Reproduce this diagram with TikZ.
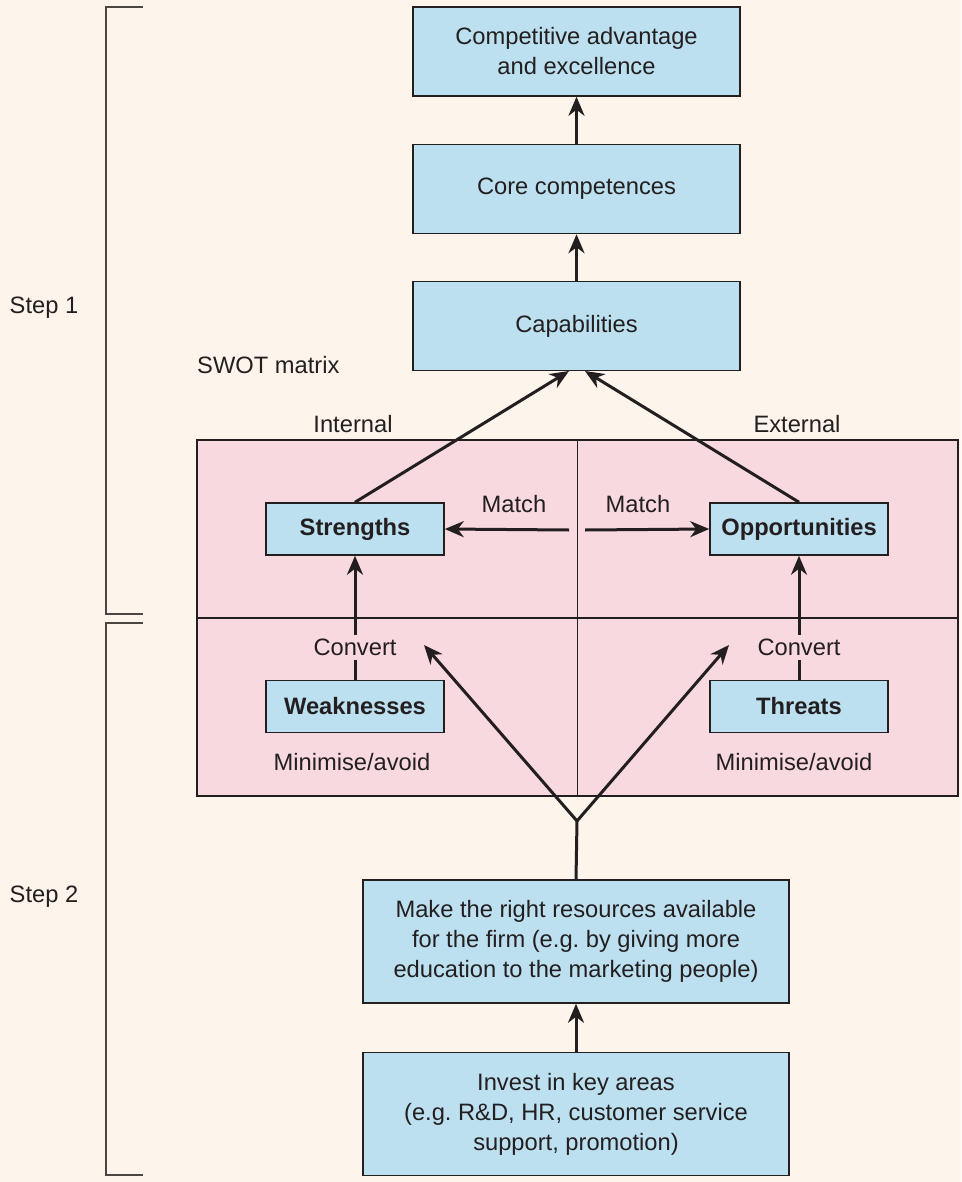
\documentclass[tikz,border=0pt]{standalone}
\usepackage{fontspec}
\setmainfont{Liberation Sans}
\usetikzlibrary{arrows.meta}
\definecolor{bgc}{RGB}{253,244,235}
\definecolor{boxc}{RGB}{188,224,239}
\definecolor{pinkc}{RGB}{249,217,224}
\definecolor{inkc}{RGB}{35,31,32}
\definecolor{brc}{RGB}{75,70,66}
\tikzset{
  every node/.style={text=inkc, font=\fontsize{23.7}{30}\selectfont},
  bluebox/.style={draw=inkc, line width=1.5pt, fill=boxc, inner sep=0pt, align=center},
  smallbox/.style={bluebox, minimum width=178pt, minimum height=52pt, font=\fontsize{23.7}{30}\selectfont\bfseries},
  bigbox/.style={bluebox, minimum width=327pt, minimum height=89pt},
  resbox/.style={bluebox, minimum width=426pt, minimum height=123pt},
  lbl/.style={inner sep=0pt, anchor=center},
  arr/.style={draw=inkc, line width=3pt, -{Stealth[length=19pt,width=16pt,inset=6pt]}},
  plain/.style={draw=inkc, line width=3pt},
  bracket/.style={draw=brc, line width=2pt},
}
\begin{document}
\begin{tikzpicture}[x=1pt,y=-1pt]
\fill[bgc] (0,0) rectangle (961,1182);
\useasboundingbox (0,0) rectangle (961,1182);

% brackets
\draw[bracket] (143,7) -- (106,7) -- (106,614) -- (143,614);
\draw[bracket] (143,623) -- (106,623) -- (106,1175) -- (143,1175);
\node[lbl] (step1) at (44,308) {Step 1};
\node[lbl] (step2) at (44,897) {Step 2};

% top chain
\node[bigbox] (cae) at (576.5,51.5) {Competitive advantage\\and excellence};
\node[bigbox] (core) at (576.5,189) {Core competences};
\node[bigbox] (cap) at (576.5,326) {Capabilities};
\draw[arr] (core) -- (cae);
\draw[arr] (cap) -- (core);

\node[lbl, anchor=west] (swotlbl) at (197,365) {SWOT matrix};
\node[lbl] (intl) at (353,424) {Internal};
\node[lbl] (extl) at (797,424) {External};

% matrix
\node[draw=inkc, line width=1.3pt, fill=pinkc, minimum width=761pt, minimum height=356pt, inner sep=0pt] (swot) at (577.5,618) {};
\draw[inkc, line width=1.3pt] (swot.north) -- (swot.south);
\draw[inkc, line width=1.3pt] (swot.west) -- (swot.east);

\node[smallbox] (str) at (355,529) {Strengths};
\node[smallbox] (opp) at (799,529) {Opportunities};
\node[smallbox] (weak) at (355,706.5) {Weaknesses};
\node[smallbox] (thr) at (799,706.5) {Threats};

\node[lbl] (m1) at (514,504) {Match};
\node[lbl] (m2) at (638,504) {Match};
\coordinate (ml) at (569,530);
\coordinate (mr) at (585,530);
\draw[arr] (ml) -- (str.east);
\draw[arr] (mr) -- (opp.west);

\coordinate (capL) at (569,371);
\coordinate (capR) at (585,371);
\draw[arr] (str.north) -- (capL);
\draw[arr] (opp.north) -- (capR);

\draw[arr] (weak) -- node[pos=0.26, fill=pinkc, inner sep=4pt] (cv1) {Convert} (str);
\draw[arr] (thr) -- node[pos=0.26, fill=pinkc, inner sep=4pt] (cv2) {Convert} (opp);

\node[lbl] (min1) at (352,762) {Minimise/avoid};
\node[lbl] (min2) at (794,762) {Minimise/avoid};

% bottom
\node[resbox] (res) at (576,941.5) {Make the right resources available\\for the firm (e.g.\ by giving more\\education to the marketing people)};
\node[resbox] (inv) at (576,1114) {Invest in key areas\\(e.g.\ R\&D, HR, customer service\\support, promotion)};
\draw[arr] (inv) -- (res);

\coordinate (fork) at (577,821);
\coordinate (fl) at (424,645);
\coordinate (fr) at (729,645);
\draw[plain] (res.north) -- (fork);
\draw[arr] (fork) -- (fl);
\draw[arr] (fork) -- (fr);
\end{tikzpicture}
\end{document}
